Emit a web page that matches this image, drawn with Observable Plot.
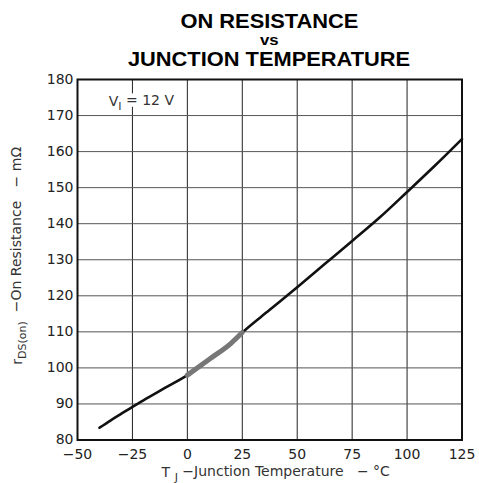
<!DOCTYPE html>
<html>
<head>
<meta charset="utf-8">
<script src="https://cdn.jsdelivr.net/npm/d3@7"></script>
<script src="https://cdn.jsdelivr.net/npm/@observablehq/plot@0.6"></script>
<style>
  html, body { margin: 0; padding: 0; background: #fff; }
  #wrap { width: 479px; height: 483px; position: relative; overflow: hidden; }
  #title { position: absolute; left: 77px; width: 385px; top: 0; height: 70px; text-align: center;
    font-family: "Liberation Sans", Arial, sans-serif; font-weight: bold; color: #000; }
  #title div { position: absolute; left: 0; right: 0; white-space: nowrap; }
  #title span { display: inline-block; transform: scaleX(1.12); }
  #chart { position: absolute; left: 0; top: 70px; }
</style>
</head>
<body>
<div id="wrap">
  <div id="title">
    <div style="top:11px;font-size:19.5px;line-height:20px;"><span>ON RESISTANCE</span></div>
    <div style="top:32px;font-size:15px;line-height:16px;"><span>vs</span></div>
    <div style="top:49px;font-size:19.5px;line-height:20px;"><span>JUNCTION TEMPERATURE</span></div>
  </div>
  <div id="chart"></div>
</div>
<script>
// Junction temperature (°C)
const temps = [-40, -35, -30, -25, -20, -10, 0, 10, 20, 25, 37.5, 50, 62.5, 75, 87.5, 100, 112.5, 125];
// On resistance (mΩ)
const rdson = [83.4, 85.4, 87.3, 89.2, 91.0, 94.5, 98.0, 102.4, 106.9, 109.8, 116.1, 122.4, 128.8, 135.2, 141.7, 148.8, 156.0, 163.5];
const xTicks = [-50, -25, 0, 25, 50, 75, 100, 125];
const yTicks = [80, 90, 100, 110, 120, 130, 140, 150, 160, 170, 180];
const annotation = "VI = 12 V";
const xLabel = "TJ −Junction Temperature   − °C";
const yLabel = "rDS(on) −On Resistance   − mΩ";

const data = temps.map((t, i) => ({t, r: rdson[i]}));
const typical = data.filter(d => d.t >= 0 && d.t <= 25);

const font = "DejaVu Sans, Liberation Sans, sans-serif";
const annoPos = {x: -35.8, y: 173.9};
const fmt = d => d < 0 ? "−" + Math.abs(d) : String(d);
const chart = Plot.plot({
  width: 479,
  height: 413,
  marginLeft: 77,
  marginRight: 17.5,
  marginTop: 9,
  marginBottom: 43.5,
  style: {fontFamily: font, fontSize: "14px", color: "#222", background: "#fff"},
  x: {domain: [-50, 125], ticks: xTicks, label: null},
  y: {domain: [80, 180], ticks: yTicks, label: null},
  marks: [
    Plot.axisX({ticks: xTicks, tickSize: 0, tickPadding: 9, label: null, fontSize: 14, fill: "#222", tickFormat: fmt}),
    Plot.axisY({ticks: yTicks, tickSize: 0, tickPadding: 4, label: null, fontSize: 14, fill: "#222"}),
    Plot.ruleX(xTicks, {stroke: "#222", strokeWidth: 1}),
    Plot.ruleY(yTicks, {stroke: "#555", strokeWidth: 1}),
    Plot.text([annotation], {...annoPos, text: d => d, textAnchor: "start", fontSize: 14, fill: "white", stroke: "white", strokeWidth: 9, className: "annohalo"}),
    Plot.text([annotation], {...annoPos, text: d => d, textAnchor: "start", fontSize: 14, fill: "#333", className: "anno"}),
    Plot.line(data, {x: "t", y: "r", curve: "monotone-x", stroke: "#111", strokeWidth: 2.6}),
    Plot.line(typical, {x: "t", y: "r", curve: "monotone-x", stroke: "#777", strokeWidth: 5}),
    Plot.frame({stroke: "#111", strokeWidth: 2}),
    Plot.text([xLabel], {frameAnchor: "bottom", dx: 6, dy: 37, text: d => d, fontSize: 14, fill: "#333", className: "xlab"}),
    Plot.text([yLabel], {frameAnchor: "left", textAnchor: "middle", dx: -60, dy: -4, rotate: -90, text: d => d, fontSize: 14, fill: "#333", className: "ylab"})
  ]
});
document.getElementById("chart").appendChild(chart);

// subscripts
function sub(sel, main, subscript, rest) {
  d3.select(chart).selectAll(sel + " text").each(function() {
    const t = d3.select(this);
    t.text(null);
    t.append("tspan").text(main);
    t.append("tspan").attr("dy", "0.35em").attr("font-size", "11px").text(subscript);
    t.append("tspan").attr("dy", "-0.35em").text(rest);
  });
}
sub(".annohalo", "V", "I", " = 12 V");
sub(".anno", "V", "I", " = 12 V");
sub(".xlab", "T ", "J", " −Junction Temperature   − °C");
sub(".ylab", "r", "DS(on)", "  −On Resistance   − mΩ");
d3.select(chart).selectAll("text").attr("xml:space", "preserve").style("white-space", "pre");
</script>
</body>
</html>
